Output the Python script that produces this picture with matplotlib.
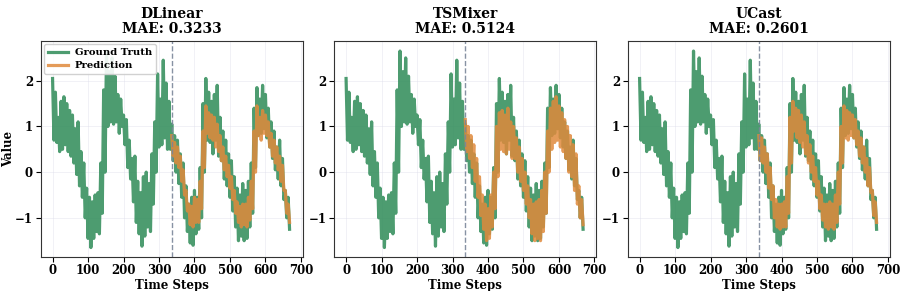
import numpy as np
import matplotlib
matplotlib.use("Agg")
import matplotlib.pyplot as plt

# Ground truth envelope read every 8 steps (upper / lower edge of the noisy band)
gt_steps = np.arange(0, 672, 8)
gt_hi = [2.05, 1.75, 1.20, 1.55, 1.65, 1.50, 1.35, 1.25, 0.95, 1.10,
         0.45, 0.20, -0.35, -0.55, -0.65, -0.50, -0.45, 0.20, 1.80, 2.65,
         2.20, 2.50, 2.10, 1.70, 1.60, 1.25, 1.15, 0.70, 0.30, 0.35,
         -0.20, -0.45, -0.10, 0.00, -0.25, 0.40, 1.10, 2.15, 1.60, 2.45,
         1.95, 1.55, 1.05, 0.80, 0.70, 0.40, 0.20, -0.30, -0.70, -0.55,
         -0.40, -0.55, 0.10, 1.50, 2.05, 1.75, 1.55, 1.70, 1.90, 1.20,
         0.90, 0.70, 0.40, 0.25, -0.10, -0.35, -0.50, -0.25, -0.40, -0.20,
         0.20, 1.40, 1.85, 1.60, 1.90, 1.70, 1.40, 1.10, 0.90, 0.55,
         0.70, 0.30, -0.40, -0.55]
gt_lo = [0.70, 0.65, 0.45, 0.50, 0.60, 0.45, 0.35, 0.20, -0.05, -0.30,
         -0.55, -1.00, -1.45, -1.65, -1.45, -1.30, -1.35, -0.90, 0.00, 1.00,
         1.10, 1.05, 1.10, 0.85, 1.00, 0.60, 0.10, -0.15, -0.65, -1.10,
         -1.35, -1.62, -1.40, -1.20, -1.30, -0.70, 0.00, 0.55, 0.60, 0.75,
         0.50, 0.50, 0.25, 0.00, -0.25, -0.55, -1.00, -1.30, -1.55, -1.60,
         -1.35, -1.25, -1.00, 0.00, 0.70, 0.65, 0.40, 0.70, 0.35, 0.25,
         -0.15, -0.30, -0.55, -0.85, -1.20, -1.50, -1.40, -1.50, -1.45, -1.20,
         -0.90, 0.10, 0.80, 0.85, 0.95, 0.75, 0.55, 0.30, 0.05, -0.15,
         -0.30, -0.60, -1.00, -1.25]

# Predictions (horizon starts at step 336), envelope every 8 steps
pred_steps = np.arange(336, 672, 8)
models = ["DLinear", "TSMixer", "UCast"]
mae = [0.3233, 0.5124, 0.2601]
dlinear_hi = [0.80, 0.65, 0.55, 0.35, 0.05, -0.40, -0.70, -0.75, -0.55, -0.60,
              -0.20, 0.90, 1.45, 1.30, 1.25, 1.20, 1.05, 0.80, 0.55, 0.35,
              0.15, -0.10, -0.40, -0.65, -0.75, -0.70, -0.70, -0.55, -0.20, 0.90,
              1.45, 1.20, 1.35, 1.25, 1.10, 0.85, 0.70, 0.55, 0.35, 0.15,
              -0.40, -0.70]
dlinear_lo = [0.35, 0.20, 0.10, -0.20, -0.50, -0.85, -1.15, -1.20, -1.10, -1.10,
              -0.80, 0.10, 0.85, 0.75, 0.70, 0.55, 0.45, 0.25, 0.05, -0.10,
              -0.35, -0.60, -0.90, -1.10, -1.20, -1.15, -1.20, -1.05, -0.80, 0.00,
              0.80, 0.70, 0.85, 0.80, 0.55, 0.35, 0.20, 0.05, -0.20, -0.40,
              -0.90, -1.10]
tsmixer_hi = [1.15, 1.00, 0.80, 0.60, 0.30, -0.10, -0.50, -0.70, -0.80, -0.50,
              0.00, 1.00, 1.30, 1.35, 1.25, 1.40, 1.10, 1.00, 0.75, 0.55,
              0.30, 0.00, -0.30, -0.60, -0.70, -0.65, -0.60, -0.40, 0.00, 0.90,
              1.40, 1.55, 1.65, 1.45, 1.30, 1.15, 1.00, 0.80, 0.60, 0.40,
              -0.30, -0.60]
tsmixer_lo = [0.45, 0.30, 0.10, -0.20, -0.55, -0.95, -1.25, -1.50, -1.45, -1.20,
              -0.80, -0.10, 0.50, 0.45, 0.40, 0.50, 0.30, 0.30, 0.00, -0.20,
              -0.40, -0.70, -1.00, -1.35, -1.50, -1.45, -1.50, -1.30, -0.90, 0.00,
              0.50, 0.65, 0.70, 0.55, 0.45, 0.30, 0.00, -0.10, -0.40, -0.70,
              -1.00, -1.15]
ucast_hi = [0.80, 0.75, 0.55, 0.40, 0.10, -0.30, -0.60, -0.70, -0.70, -0.65,
            -0.10, 1.20, 1.55, 1.40, 1.35, 1.25, 1.10, 0.80, 0.60, 0.35,
            0.10, -0.20, -0.50, -0.70, -0.70, -0.65, -0.70, -0.50, 0.00, 1.00,
            1.45, 1.35, 1.30, 1.25, 1.15, 0.90, 0.75, 0.55, 0.30, 0.10,
            -0.40, -0.65]
ucast_lo = [0.25, 0.20, 0.00, -0.35, -0.60, -1.00, -1.20, -1.25, -1.20, -1.20,
            -0.90, 0.20, 0.90, 0.75, 0.65, 0.55, 0.40, 0.20, 0.00, -0.20,
            -0.50, -0.80, -1.05, -1.20, -1.25, -1.20, -1.25, -1.10, -0.70, 0.20,
            0.75, 0.70, 0.80, 0.75, 0.60, 0.35, 0.20, 0.00, -0.30, -0.45,
            -0.95, -1.10]
pred_hi = [dlinear_hi, tsmixer_hi, ucast_hi]
pred_lo = [dlinear_lo, tsmixer_lo, ucast_lo]
split_step = 336


def zigzag(steps, hi, lo):
    # upper edge on the sample step, lower edge half way to the next one
    x = np.empty(2 * len(steps))
    y = np.empty(2 * len(steps))
    x[0::2] = steps
    x[1::2] = steps + 4
    y[0::2] = hi
    y[1::2] = lo
    return x, y


plt.rcParams['font.family'] = ['DejaVu Serif']
plt.rcParams['font.weight'] = 'bold'

fig, axes = plt.subplots(1, 3, figsize=(9.04, 2.91), dpi=100)
fig.subplots_adjust(left=0.045, right=0.984, bottom=0.118, top=0.859, wspace=0.121)

gx, gy = zigzag(gt_steps, gt_hi, gt_lo)
for i, ax in enumerate(axes):
    px, py = zigzag(pred_steps, pred_hi[i], pred_lo[i])
    ax.plot(gx, gy, color='#2E8B57', lw=2.3, alpha=0.85, label='Ground Truth')
    ax.plot(px, py, color='#E08A3C', lw=2.3, alpha=0.85, label='Prediction')
    ax.axvline(split_step, color='#7a8699', ls='--', lw=1.0, alpha=0.9)
    ax.set_title(f"{models[i]}\nMAE: {mae[i]:.4f}", fontsize=10, fontweight='bold',
                 linespacing=1.1)
    ax.set_xlabel('Time Steps', fontsize=8.5, fontweight='bold', labelpad=1)
    ax.set_xlim(-33.5, 704.5)
    ax.set_ylim(-1.85, 2.87)
    ax.set_xticks(range(0, 701, 100))
    ax.set_yticks([-1, 0, 1, 2])
    ax.tick_params(labelsize=8.5, pad=2)
    for lab in ax.get_xticklabels() + ax.get_yticklabels():
        lab.set_fontweight('bold')
    ax.grid(True, color='#d8d8e8', lw=0.5, alpha=0.5)
    for sp in ax.spines.values():
        sp.set_color('#333333')
    if i == 0:
        ax.set_ylabel('Value', fontsize=8.5, fontweight='bold')
        ax.yaxis.set_label_coords(-0.098, 0.5)
        ax.legend(loc='upper left', prop={'weight': 'bold', 'size': 7.2},
                  handlelength=2.0, handletextpad=0.7, borderpad=0.4,
                  labelspacing=0.4, borderaxespad=0.3, framealpha=0.9)

fig.savefig('out.png', dpi=100)
